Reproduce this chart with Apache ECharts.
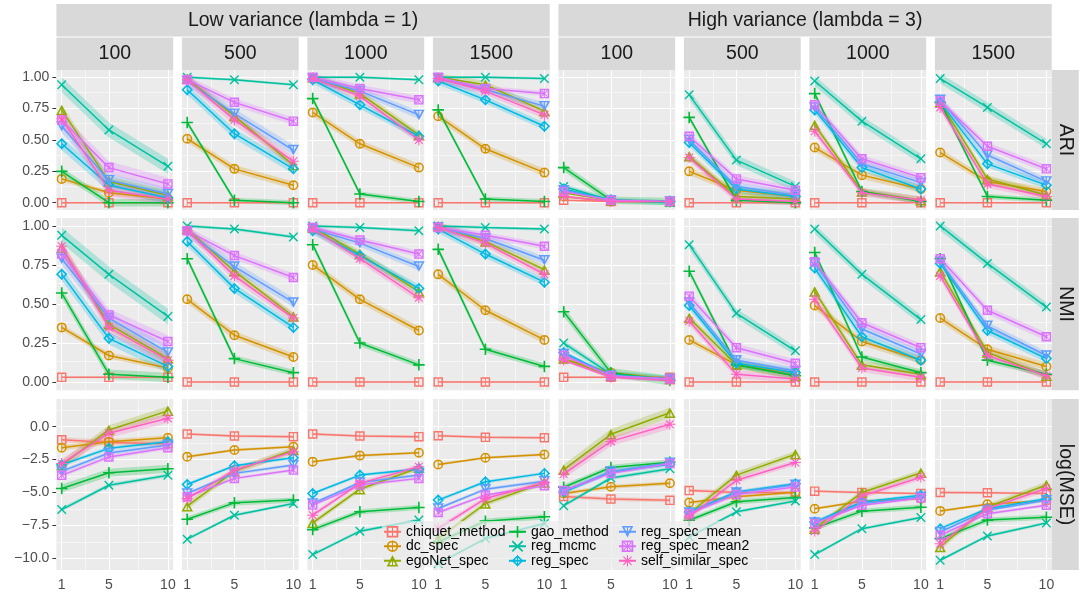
<!DOCTYPE html>
<html><head><meta charset="utf-8">
<script src="https://cdn.jsdelivr.net/npm/echarts@6/dist/echarts.min.js"></script>
<style>html,body{margin:0;padding:0;background:#fff}#c{width:1084px;height:595px}</style>
</head><body><div id="c"></div><script>
// ---------- labels ----------
const methods = ['chiquet_method','dc_spec','egoNet_spec','gao_method','reg_mcmc','reg_spec','reg_spec_mean','reg_spec_mean2','self_similar_spec'];
const xValues = [1, 5, 10];
const xTickLabels = [1, 5, 10];
const varianceLabels = ['Low variance (lambda = 1)', 'High variance (lambda = 3)'];
const sizeLabels = ['100', '500', '1000', '1500', '100', '500', '1000', '1500'];
const metricLabels = ['ARI', 'NMI', 'log(MSE)'];
const yTicksScore = [0, 0.25, 0.5, 0.75, 1];
const yTicksMSE = [-10, -7.5, -5, -2.5, 0];

// ---------- data: one array per metric & method, 8 panels x (1,5,10) ----------
const ari_chiquet_method = [[0,0,0],[0,0,0],[0,0,0],[0,0,0],[0.02,0.01,0.01],[0,0,0],[0,0,0],[0,0,0]];
const ari_dc_spec = [[0.19,0.08,0.03],[0.51,0.27,0.14],[0.72,0.47,0.28],[0.69,0.43,0.24],[0.05,0.01,0.01],[0.25,0.10,0.05],[0.44,0.22,0.11],[0.40,0.17,0.09]];
const ari_egoNet_spec = [[0.74,0.17,0.06],[0.99,0.69,0.30],[1.0,0.87,0.54],[1.0,0.94,0.73],[0.08,0.02,0.01],[0.37,0.05,0.03],[0.62,0.09,0.02],[0.80,0.19,0.06]];
const ari_gao_method = [[0.25,0.0,0.0],[0.64,0.02,0.0],[0.83,0.07,0.01],[0.74,0.03,0.01],[0.28,0.02,0.01],[0.68,0.02,0.0],[0.87,0.09,0.01],[0.80,0.05,0.02]];
const ari_reg_mcmc = [[0.94,0.58,0.29],[1.0,0.98,0.94],[1.0,1.0,0.98],[1.0,1.0,0.99],[0.13,0.02,0.0],[0.86,0.34,0.13],[0.97,0.65,0.35],[0.99,0.76,0.47]];
const ari_reg_spec = [[0.47,0.14,0.04],[0.90,0.55,0.27],[0.98,0.78,0.53],[0.97,0.82,0.61],[0.11,0.02,0.01],[0.48,0.11,0.05],[0.74,0.28,0.11],[0.80,0.31,0.14]];
const ari_reg_spec_mean = [[0.61,0.18,0.07],[0.97,0.71,0.42],[0.99,0.89,0.70],[0.99,0.90,0.77],[0.10,0.02,0.01],[0.50,0.13,0.06],[0.76,0.31,0.16],[0.82,0.38,0.17]];
const ari_reg_spec_mean2 = [[0.66,0.28,0.15],[0.98,0.80,0.65],[1.0,0.91,0.82],[1.0,0.91,0.87],[0.09,0.02,0.01],[0.53,0.19,0.10],[0.78,0.35,0.20],[0.81,0.45,0.27]];
const ari_self_similar_spec = [[0.67,0.10,0.03],[0.98,0.66,0.33],[0.99,0.85,0.50],[0.99,0.89,0.70],[0.05,0.01,0.01],[0.36,0.03,0.01],[0.57,0.08,0.02],[0.76,0.15,0.05]];

const nmi_chiquet_method = [[0.03,0.03,0.03],[0,0,0],[0,0,0],[0,0,0],[0.03,0.03,0.03],[0,0,0],[0,0,0],[0,0,0]];
const nmi_dc_spec = [[0.35,0.17,0.09],[0.53,0.30,0.16],[0.75,0.53,0.33],[0.69,0.46,0.27],[0.15,0.06,0.02],[0.27,0.11,0.06],[0.49,0.26,0.14],[0.41,0.21,0.10]];
const nmi_egoNet_spec = [[0.86,0.37,0.15],[0.98,0.71,0.42],[0.99,0.82,0.58],[1.0,0.90,0.72],[0.15,0.04,0.02],[0.41,0.11,0.04],[0.58,0.11,0.05],[0.71,0.19,0.04]];
const nmi_gao_method = [[0.57,0.05,0.03],[0.79,0.15,0.06],[0.88,0.25,0.11],[0.85,0.21,0.10],[0.45,0.06,0.01],[0.71,0.11,0.04],[0.83,0.16,0.06],[0.79,0.14,0.05]];
const nmi_reg_mcmc = [[0.94,0.69,0.42],[1.0,0.98,0.93],[1.0,0.99,0.97],[1.0,0.99,0.98],[0.25,0.05,0.02],[0.88,0.44,0.20],[0.98,0.69,0.40],[1.0,0.76,0.48]];
const nmi_reg_spec = [[0.69,0.28,0.10],[0.90,0.60,0.35],[0.97,0.81,0.60],[0.98,0.82,0.64],[0.19,0.04,0.02],[0.49,0.12,0.06],[0.73,0.29,0.14],[0.76,0.33,0.15]];
const nmi_reg_spec_mean = [[0.79,0.41,0.19],[0.96,0.74,0.51],[0.98,0.89,0.74],[0.99,0.92,0.78],[0.18,0.04,0.02],[0.51,0.14,0.07],[0.76,0.34,0.18],[0.77,0.36,0.17]];
const nmi_reg_spec_mean2 = [[0.82,0.43,0.26],[0.97,0.81,0.67],[0.99,0.91,0.82],[0.99,0.94,0.87],[0.17,0.04,0.02],[0.55,0.22,0.12],[0.77,0.38,0.22],[0.79,0.46,0.29]];
const nmi_self_similar_spec = [[0.87,0.35,0.14],[0.97,0.68,0.41],[0.98,0.79,0.54],[0.99,0.89,0.69],[0.14,0.03,0.01],[0.39,0.05,0.02],[0.53,0.09,0.03],[0.68,0.17,0.04]];

const mse_chiquet_method = [[-1.0,-1.2,-1.3],[-0.56,-0.71,-0.76],[-0.56,-0.71,-0.76],[-0.69,-0.81,-0.84],[-5.3,-5.5,-5.6],[-4.86,-5.0,-5.0],[-4.9,-5.0,-5.08],[-5.0,-5.02,-5.08]];
const mse_dc_spec = [[-1.6,-1.15,-0.85],[-2.28,-1.78,-1.52],[-2.66,-2.2,-1.98],[-2.87,-2.36,-2.11],[-5.08,-4.57,-4.3],[-5.77,-5.33,-4.98],[-6.24,-5.66,-5.48],[-6.4,-5.9,-5.62]];
const mse_egoNet_spec = [[-2.92,-0.25,1.2],[-6.04,-3.38,-1.78],[-7.31,-4.75,-3.12],[-8.5,-5.84,-4.24],[-3.27,-0.58,1.05],[-6.6,-3.68,-2.1],[-7.75,-5.0,-3.5],[-9.14,-6.1,-4.43]];
const mse_gao_method = [[-4.7,-3.5,-3.2],[-7.03,-5.79,-5.58],[-7.82,-6.47,-6.14],[-8.76,-7.18,-6.85],[-4.6,-3.1,-2.7],[-7.11,-5.71,-5.39],[-7.7,-6.42,-6.12],[-8.51,-7.1,-6.88]];
const mse_reg_mcmc = [[-6.3,-4.45,-3.7],[-8.55,-6.73,-5.84],[-9.72,-7.94,-7.1],[-10.4,-8.5,-7.36],[-6.0,-3.9,-3.2],[-8.38,-6.47,-5.65],[-9.72,-7.75,-6.9],[-10.15,-8.3,-7.32]];
const mse_reg_spec = [[-2.9,-1.65,-1.15],[-4.39,-2.97,-2.36],[-5.08,-3.68,-3.22],[-5.58,-4.19,-3.55],[-4.96,-3.45,-2.85],[-6.48,-4.96,-4.33],[-7.24,-5.72,-5.22],[-7.75,-6.23,-5.47]];
const mse_reg_spec_mean = [[-3.4,-2.0,-1.4],[-5.08,-3.55,-2.92],[-5.84,-4.24,-3.68],[-6.22,-4.75,-4.14],[-4.9,-3.4,-2.75],[-6.53,-5.01,-4.41],[-7.29,-5.85,-5.34],[-8.0,-6.35,-5.59]];
const mse_reg_spec_mean2 = [[-3.7,-2.3,-1.6],[-5.33,-3.93,-3.3],[-5.96,-4.44,-3.93],[-6.52,-5.2,-4.49],[-4.85,-3.55,-2.8],[-6.61,-5.16,-4.58],[-7.37,-5.97,-5.42],[-8.25,-6.61,-5.97]];
const mse_self_similar_spec = [[-2.8,-0.5,0.63],[-5.46,-3.3,-1.9],[-6.73,-4.31,-3.05],[-7.74,-5.46,-4.24],[-3.6,-1.12,0.18],[-6.86,-4.07,-2.72],[-7.95,-5.27,-3.85],[-8.89,-6.23,-4.7]];

// ---------- ribbon half-widths (confidence band), one per panel ----------
const ariBand_chiquet_method = [0.005,0.005,0.005,0.005,0.005,0.005,0.005,0.005];
const ariBand_dc_spec = [0.02,0.03,0.03,0.03,0.01,0.03,0.03,0.03];
const ariBand_egoNet_spec = [0.04,0.03,0.03,0.03,0.01,0.03,0.03,0.03];
const ariBand_gao_method = [0.03,0.02,0.02,0.02,0.03,0.02,0.02,0.02];
const ariBand_reg_mcmc = [0.06,0.01,0.01,0.01,0.02,0.04,0.04,0.04];
const ariBand_reg_spec = [0.05,0.04,0.03,0.03,0.01,0.03,0.03,0.03];
const ariBand_reg_spec_mean = [0.05,0.04,0.03,0.03,0.01,0.03,0.03,0.03];
const ariBand_reg_spec_mean2 = [0.05,0.03,0.03,0.02,0.01,0.03,0.03,0.03];
const ariBand_self_similar_spec = [0.05,0.04,0.03,0.03,0.01,0.03,0.03,0.03];

const nmiBand_chiquet_method = [0.005,0.005,0.005,0.005,0.005,0.005,0.005,0.005];
const nmiBand_dc_spec = [0.02,0.025,0.025,0.025,0.01,0.02,0.025,0.025];
const nmiBand_egoNet_spec = [0.035,0.025,0.025,0.025,0.01,0.025,0.025,0.025];
const nmiBand_gao_method = [0.03,0.02,0.02,0.02,0.03,0.02,0.02,0.02];
const nmiBand_reg_mcmc = [0.05,0.01,0.01,0.01,0.02,0.03,0.03,0.03];
const nmiBand_reg_spec = [0.04,0.03,0.025,0.025,0.01,0.025,0.025,0.025];
const nmiBand_reg_spec_mean = [0.04,0.03,0.025,0.025,0.01,0.025,0.025,0.025];
const nmiBand_reg_spec_mean2 = [0.04,0.025,0.02,0.02,0.01,0.025,0.025,0.025];
const nmiBand_self_similar_spec = [0.04,0.03,0.025,0.025,0.01,0.025,0.025,0.025];

const mseBand_chiquet_method = [0.2,0.1,0.1,0.1,0.15,0.15,0.1,0.1];
const mseBand_dc_spec = [0.2,0.1,0.1,0.1,0.15,0.12,0.1,0.1];
const mseBand_egoNet_spec = [0.35,0.25,0.2,0.2,0.4,0.25,0.22,0.25];
const mseBand_gao_method = [0.3,0.2,0.2,0.2,0.2,0.2,0.2,0.2];
const mseBand_reg_mcmc = [0.15,0.12,0.12,0.12,0.15,0.12,0.12,0.12];
const mseBand_reg_spec = [0.15,0.12,0.12,0.12,0.15,0.12,0.12,0.12];
const mseBand_reg_spec_mean = [0.15,0.12,0.12,0.12,0.15,0.15,0.12,0.12];
const mseBand_reg_spec_mean2 = [0.15,0.12,0.12,0.12,0.15,0.15,0.12,0.12];
const mseBand_self_similar_spec = [0.35,0.2,0.2,0.2,0.35,0.22,0.2,0.22];

// ---------- lookup tables built from the arrays ----------
const DATA = [
  [ari_chiquet_method, ari_dc_spec, ari_egoNet_spec, ari_gao_method, ari_reg_mcmc, ari_reg_spec, ari_reg_spec_mean, ari_reg_spec_mean2, ari_self_similar_spec],
  [nmi_chiquet_method, nmi_dc_spec, nmi_egoNet_spec, nmi_gao_method, nmi_reg_mcmc, nmi_reg_spec, nmi_reg_spec_mean, nmi_reg_spec_mean2, nmi_self_similar_spec],
  [mse_chiquet_method, mse_dc_spec, mse_egoNet_spec, mse_gao_method, mse_reg_mcmc, mse_reg_spec, mse_reg_spec_mean, mse_reg_spec_mean2, mse_self_similar_spec]
];
const BANDS = [
  [ariBand_chiquet_method, ariBand_dc_spec, ariBand_egoNet_spec, ariBand_gao_method, ariBand_reg_mcmc, ariBand_reg_spec, ariBand_reg_spec_mean, ariBand_reg_spec_mean2, ariBand_self_similar_spec],
  [nmiBand_chiquet_method, nmiBand_dc_spec, nmiBand_egoNet_spec, nmiBand_gao_method, nmiBand_reg_mcmc, nmiBand_reg_spec, nmiBand_reg_spec_mean, nmiBand_reg_spec_mean2, nmiBand_self_similar_spec],
  [mseBand_chiquet_method, mseBand_dc_spec, mseBand_egoNet_spec, mseBand_gao_method, mseBand_reg_mcmc, mseBand_reg_spec, mseBand_reg_spec_mean, mseBand_reg_spec_mean2, mseBand_self_similar_spec]
];

// ---------- styling ----------
const FONT = '"Liberation Sans", Arial, Helvetica, sans-serif';
const COLORS = ['#F8766D','#D39200','#93AA00','#00BA38','#00C19F','#00B9E3','#619CFF','#DB72FB','#FF61C3'];
const BAND_COLORS = ['rgba(248,118,109,0.25)','rgba(211,146,0,0.25)','rgba(147,170,0,0.25)','rgba(0,186,56,0.25)','rgba(0,193,159,0.25)','rgba(0,185,227,0.25)','rgba(97,156,255,0.25)','rgba(219,114,251,0.25)','rgba(255,97,195,0.25)'];
const VBAR = ' M9.1 0H10.9V20H9.1Z';
const SQ = 'M0 0H20V20H0Z M3 3V17H17V3Z';
const SYMBOLS = [
  'path://' + SQ + VBAR,
  'path://M10 0A10 10 0 1 1 10 20A10 10 0 1 1 10 0Z M10 3A7 7 0 1 0 10 17A7 7 0 1 0 10 3Z' + VBAR,
  'path://M10 0L20 18H0Z M10 5.5L4.6 15.5H15.4Z M9.1 2H10.9V18H9.1Z',
  'path://M8.6 0H11.4V8.6H20V11.4H11.4V20H8.6V11.4H0V8.6H8.6Z',
  'path://M0 2.1L2.1 0L20 17.9L17.9 20Z M17.9 0L20 2.1L2.1 20L0 17.9Z',
  'path://M10 0L20 10L10 20L0 10Z M10 3.8L3.8 10L10 16.2L16.2 10Z' + VBAR,
  'path://M0 0H20L10 18Z M4.6 2.5L10 12.5L15.4 2.5Z M9.1 0H10.9V16H9.1Z',
  'path://' + SQ + ' M3 4.4L4.4 3L17 15.6L15.6 17Z M15.6 3L17 4.4L4.4 17L3 15.6Z' + VBAR,
  'path://M9.1 0H10.9V9.1H20V10.9H10.9V20H9.1V10.9H0V9.1H9.1Z M2.2 3.7L3.7 2.2L17.8 16.3L16.3 17.8Z M16.3 2.2L17.8 3.7L3.7 17.8L2.2 16.3Z'
];
const SYMBOL_SIZES = [9.5, 10, [11.5,10.5], 11.5, 9.5, 11.5, [11.5,10.5], 9.5, 11];

// layout
const L0 = 56.4, STEP = 125.5, PW = 116.8;
const ROW_TOP = [70, 218, 399], ROW_H = [140, 172.3, 171];
const X_MIN = 0.55, X_MAX = 10.45;
const Y_RANGE = [[-0.058, 1.058], [-0.053, 1.051], [-10.89, 2.10]];
const Y_TICKS = [yTicksScore, yTicksScore, yTicksMSE];
const Y_MINOR = [[0.125,0.375,0.625,0.875],[0.125,0.375,0.625,0.875],[-8.75,-6.25,-3.75,-1.25,1.25]];
const X_MINOR = [3, 7.5];

function bandRenderer(color) {
  return function (params, api) {
    if (params.dataIndex !== 0) return null;
    const upper = [], lower = [];
    for (let i = 0; i < 3; i++) {
      const x = api.value(0, i), lo = api.value(1, i), hi = api.value(2, i);
      upper.push(api.coord([x, hi]));
      lower.unshift(api.coord([x, lo]));
    }
    return { type: 'polygon', shape: { points: upper.concat(lower) }, style: { fill: color, stroke: 'none' } };
  };
}

const grids = [], xAxes = [], yAxes = [], series = [];
for (let r = 0; r < 3; r++) {
  for (let c = 0; c < 8; c++) {
    const g = r * 8 + c;
    grids.push({ left: L0 + c * STEP, top: ROW_TOP[r], width: PW, height: ROW_H[r],
      show: true, backgroundColor: '#EBEBEB', borderWidth: 0, containLabel: false });
    const bottom = r === 2, leftCol = c === 0;
    xAxes.push({ type: 'value', gridIndex: g, min: X_MIN, max: X_MAX,
      axisLine: { show: false }, splitLine: { show: false },
      axisTick: { show: bottom, customValues: xValues, length: 4, lineStyle: { color: '#333333', width: 1 } },
      axisLabel: { show: bottom, customValues: xValues, margin: 8, fontSize: 14, color: '#4D4D4D', fontFamily: FONT,
        formatter: v => String(xTickLabels[xValues.indexOf(Math.round(v))] ?? v) } });
    yAxes.push({ type: 'value', gridIndex: g, min: Y_RANGE[r][0], max: Y_RANGE[r][1],
      axisLine: { show: false }, splitLine: { show: false },
      axisTick: { show: leftCol, customValues: Y_TICKS[r], length: 4, lineStyle: { color: '#333333', width: 1 } },
      axisLabel: { show: leftCol, customValues: Y_TICKS[r], margin: 7, fontSize: 14, color: '#4D4D4D', fontFamily: FONT,
        formatter: v => r === 2 ? (v < 0 ? '\u2212' + Math.abs(v).toFixed(1) : v.toFixed(1)) : v.toFixed(2) } });
    // grid lines
    const ml = [];
    Y_MINOR[r].forEach(v => ml.push({ yAxis: v, lineStyle: { color: '#FFFFFF', width: 0.55, type: 'solid' } }));
    X_MINOR.forEach(v => ml.push({ xAxis: v, lineStyle: { color: '#FFFFFF', width: 0.55, type: 'solid' } }));
    Y_TICKS[r].forEach(v => ml.push({ yAxis: v, lineStyle: { color: '#FFFFFF', width: 1.1, type: 'solid' } }));
    xValues.forEach(v => ml.push({ xAxis: v, lineStyle: { color: '#FFFFFF', width: 1.1, type: 'solid' } }));
    series.push({ type: 'line', name: '_grid', xAxisIndex: g, yAxisIndex: g, data: [], z: 1, silent: true,
      markLine: { z: 1, silent: true, symbol: ['none','none'], label: { show: false }, animation: false, data: ml } });
    // ribbons
    methods.forEach((m, k) => {
      const vals = DATA[r][k][c], hw = BANDS[r][k][c];
      series.push({ type: 'custom', name: m + ' band', xAxisIndex: g, yAxisIndex: g, z: 1.5, silent: true, clip: true,
        renderItem: bandRenderer(BAND_COLORS[k]),
        encode: { x: 0, y: [1, 2] },
        data: xValues.map((x, i) => [x, vals[i] - hw, vals[i] + hw]), animation: false });
    });
    methods.forEach((m, k) => {
      const vals = DATA[r][k][c];
      series.push({ type: 'line', name: m, xAxisIndex: g, yAxisIndex: g, z: 2 + k * 0.01,
        data: xValues.map((x, i) => [x, vals[i]]),
        symbol: SYMBOLS[k], symbolSize: SYMBOL_SIZES[k], showSymbol: true,
        lineStyle: { color: COLORS[k], width: 1.5 }, itemStyle: { color: COLORS[k] },
        emphasis: { disabled: true }, animation: false });
    });
  }
}

// strips
const graphic = [];
const STRIP_FILL = '#D9D9D9';
const panelLeft = c => L0 + c * STEP;
for (let v = 0; v < 2; v++) {
  const x0 = panelLeft(v * 4), x1 = panelLeft(v * 4 + 3) + PW;
  graphic.push({ type: 'rect', shape: { x: x0, y: 4, width: x1 - x0, height: 32.5 }, style: { fill: STRIP_FILL }, silent: true });
  graphic.push({ type: 'text', x: (x0 + x1) / 2, y: 20.5, style: { text: varianceLabels[v], fill: '#1A1A1A', font: '19.5px ' + FONT, align: 'center', verticalAlign: 'middle' }, silent: true });
}
for (let c = 0; c < 8; c++) {
  const x0 = panelLeft(c);
  graphic.push({ type: 'rect', shape: { x: x0, y: 37.5, width: PW, height: 32.5 }, style: { fill: STRIP_FILL }, silent: true });
  graphic.push({ type: 'text', x: x0 + PW / 2, y: 54, style: { text: sizeLabels[c], fill: '#1A1A1A', font: '19.5px ' + FONT, align: 'center', verticalAlign: 'middle' }, silent: true });
}
const rightX = panelLeft(7) + PW;
for (let r = 0; r < 3; r++) {
  graphic.push({ type: 'rect', shape: { x: rightX, y: ROW_TOP[r], width: 27, height: ROW_H[r] }, style: { fill: STRIP_FILL }, silent: true });
  graphic.push({ type: 'text', x: rightX + 13.5, y: ROW_TOP[r] + ROW_H[r] / 2, rotation: -Math.PI / 2,
    style: { text: metricLabels[r], fill: '#1A1A1A', font: '19.5px ' + FONT, align: 'center', verticalAlign: 'middle' }, silent: true });
}
// legend background (semi transparent)
graphic.push({ type: 'rect', z: 50, shape: { x: 382, y: 521, width: 370, height: 46 }, style: { fill: 'rgba(235,235,235,0.7)' }, silent: true });

const legends = [0, 1, 2].map(i => ({
  orient: 'vertical', left: [383, 508, 618][i], top: 524.5, padding: 0,
  itemWidth: 17, itemHeight: 14.5, itemGap: 0, z: 100,
  data: methods.slice(i * 3, i * 3 + 3),
  textStyle: { fontSize: 14, lineHeight: 14.5, color: '#000000', fontFamily: FONT }
}));

const chart = echarts.init(document.getElementById('c'));
chart.setOption({
  animation: false,
  backgroundColor: '#FFFFFF',
  grid: grids, xAxis: xAxes, yAxis: yAxes, series: series,
  legend: legends, graphic: graphic
});
</script></body></html>
